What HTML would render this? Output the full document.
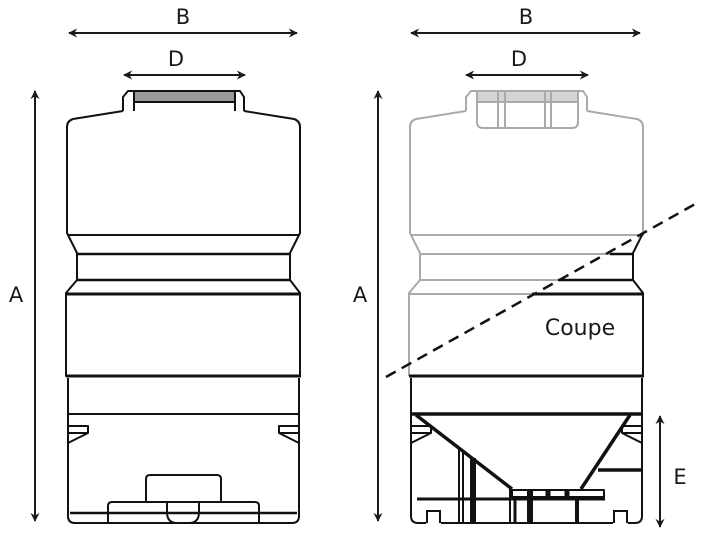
<!DOCTYPE html>
<html><head><style>
html,body{margin:0;padding:0;background:#fff;}
svg{display:block;}
text{font-family:"DejaVu Sans","Liberation Sans",sans-serif;fill:#1a1a1a;}
</style></head><body>
<svg width="713" height="542" viewBox="0 0 713 542" xmlns="http://www.w3.org/2000/svg">
<defs>
<marker id="ah" viewBox="0 0 10 10" refX="9" refY="5" markerWidth="9" markerHeight="9" orient="auto-start-reverse" markerUnits="userSpaceOnUse">
<path d="M0,0 L10,5 L0,10 L3,5 z" fill="#1a1a1a"/>
</marker>
</defs>

<!-- dimension arrows -->
<g stroke="#1a1a1a" stroke-width="2" fill="none">
<line x1="69" y1="33" x2="297" y2="33" marker-start="url(#ah)" marker-end="url(#ah)"/>
<line x1="124" y1="75" x2="245" y2="75" marker-start="url(#ah)" marker-end="url(#ah)"/>
<line x1="35" y1="91" x2="35" y2="521" marker-start="url(#ah)" marker-end="url(#ah)"/>
<line x1="411" y1="33" x2="640" y2="33" marker-start="url(#ah)" marker-end="url(#ah)"/>
<line x1="466" y1="75" x2="588" y2="75" marker-start="url(#ah)" marker-end="url(#ah)"/>
<line x1="378" y1="91" x2="378" y2="521" marker-start="url(#ah)" marker-end="url(#ah)"/>
<line x1="660" y1="416" x2="660" y2="527" marker-start="url(#ah)" marker-end="url(#ah)"/>
</g>
<text x="183" y="24" font-size="21" text-anchor="middle">B</text>
<text x="176" y="66" font-size="21" text-anchor="middle">D</text>
<text x="16" y="302" font-size="21" text-anchor="middle">A</text>
<text x="526" y="24" font-size="21" text-anchor="middle">B</text>
<text x="519" y="66" font-size="21" text-anchor="middle">D</text>
<text x="360" y="302" font-size="21" text-anchor="middle">A</text>
<text x="680" y="484" font-size="21" text-anchor="middle">E</text>
<text x="580" y="335" font-size="22" text-anchor="middle">Coupe</text>

<!-- LEFT TANK -->
<g stroke="#111" stroke-width="2" fill="none" stroke-linejoin="round">
<path d="M123,111 L123,97 L128,91 L240,91 L244,97 L244,111"/>
<rect x="134" y="92" width="101" height="9" fill="#999" stroke="none"/>
<line x1="134" y1="91" x2="134" y2="111"/><line x1="235" y1="91" x2="235" y2="111"/>
<line x1="134" y1="102" x2="235" y2="102"/>
<path d="M123,111 L73,119 Q67,121 67,127 L67,233 L77,253 L77,280 L66,293 L66,376 L300,376 L300,293 L290,280 L290,253 L300,233 L300,127 Q300,121 294,119 L244,111"/>
<line x1="67" y1="235" x2="300" y2="235"/>
<line x1="77" y1="254" x2="290" y2="254" stroke-width="2.5"/>
<line x1="77" y1="280" x2="290" y2="280" stroke-width="2.5"/>
<line x1="66" y1="294" x2="301" y2="294" stroke-width="3"/>
<line x1="66" y1="376" x2="301" y2="376" stroke-width="3"/>
<path d="M68,378 L68,516 Q68,523 75,523 L292,523 Q299,523 299,516 L299,378"/>
<line x1="68" y1="414" x2="299" y2="414"/>
<path d="M68,426 L88,426 L88,433 L68,433 M88,433 L68,443"/>
<path d="M299,426 L279,426 L279,433 L299,433 M279,433 L299,443"/>
<path d="M146,503 L146,479 Q146,475 150,475 L217,475 Q221,475 221,479 L221,503"/>
<path d="M108,523 L108,506 Q108,502 112,502 L255,502 Q259,502 259,506 L259,523"/>
<line x1="70" y1="513" x2="297" y2="513" stroke-width="2.5"/>
<path d="M167,502 L167,512 Q167,523 177,523 L189,523 Q199,523 199,512 L199,502"/>
</g>

<!-- RIGHT TANK: gray upper -->
<g stroke="#aaa" stroke-width="2" fill="none" stroke-linejoin="round">
<path d="M466,111 L466,97 L471,91 L583,91 L587,97 L587,111"/>
<rect x="477" y="92" width="101" height="9" fill="#d4d4d4" stroke="none"/>
<path d="M477,91 L477,122 Q477,128 483,128 L572,128 Q578,128 578,122 L578,91"/>
<line x1="498" y1="91" x2="498" y2="128"/><line x1="505" y1="91" x2="505" y2="128"/>
<line x1="545" y1="91" x2="545" y2="128"/><line x1="551" y1="91" x2="551" y2="128"/>
<line x1="477" y1="102" x2="578" y2="102"/>
<path d="M466,111 L416,119 Q410,121 410,127 L410,233 L420,253 L420,280 L409,293 L409,376 M643,236 L643,127 Q643,121 637,119 L587,111"/>
<line x1="410" y1="235" x2="643" y2="235"/>
<line x1="420" y1="254" x2="610" y2="254"/>
<line x1="420" y1="280" x2="558" y2="280"/>
<line x1="409" y1="294" x2="532" y2="294"/>
</g>
<!-- RIGHT TANK: black cut part -->
<g stroke="#111" stroke-width="2" fill="none" stroke-linejoin="round">
<path d="M643,233 L633,253 L633,280 L643,293 L643,376"/>
<line x1="610" y1="254" x2="633" y2="254" stroke-width="2.5"/>
<line x1="558" y1="280" x2="633" y2="280" stroke-width="2.5"/>
<line x1="532" y1="294" x2="644" y2="294" stroke-width="3"/>
<line x1="409" y1="376" x2="644" y2="376" stroke-width="3"/>
<path d="M411,378 L411,516 Q411,523 418,523 L635,523 Q642,523 642,516 L642,378"/>
<line x1="411" y1="414" x2="642" y2="414" stroke-width="3.5"/>
<path d="M411,426 L431,426 L431,433 L411,433 M431,433 L411,443" />
<path d="M642,426 L622,426 L622,433 L642,433 M622,433 L642,443"/>
<line x1="416" y1="415" x2="512" y2="489" stroke-width="3.5"/>
<line x1="630" y1="415" x2="581" y2="489" stroke-width="3.5"/>
<path d="M512,489 L512,497 L604,497 L604,490 L581,490 M512,490 L581,490"/>
<line x1="417" y1="499" x2="605" y2="499" stroke-width="3"/>
<line x1="598" y1="470" x2="642" y2="470" stroke-width="3.5"/>
<line x1="459" y1="448" x2="459" y2="523"/>
<line x1="463" y1="452" x2="463" y2="523"/>
<line x1="473" y1="458" x2="473" y2="523" stroke-width="6"/>
<line x1="510" y1="489" x2="510" y2="523"/>
<line x1="515" y1="497" x2="515" y2="523" stroke-width="3"/>
<line x1="530" y1="490" x2="530" y2="523" stroke-width="6"/>
<line x1="548" y1="490" x2="548" y2="497" stroke-width="5"/>
<line x1="567" y1="490" x2="567" y2="497" stroke-width="5"/>
<line x1="577" y1="497" x2="577" y2="523" stroke-width="4"/>
<path d="M427,523 L427,511 L440,511 L440,523 M614,523 L614,511 L627,511 L627,523"/>
</g>
<rect x="426" y="512" width="15" height="12" fill="#fff"/>
<rect x="613" y="512" width="15" height="12" fill="#fff"/>
<g stroke="#111" stroke-width="2" fill="none">
<path d="M427,523 L427,511 L440,511 L440,523 M614,523 L614,511 L627,511 L627,523"/>
</g>
<line x1="386" y1="377" x2="697" y2="203" stroke="#111" stroke-width="2.5" stroke-dasharray="11,7"/>
</svg>
</body></html>
